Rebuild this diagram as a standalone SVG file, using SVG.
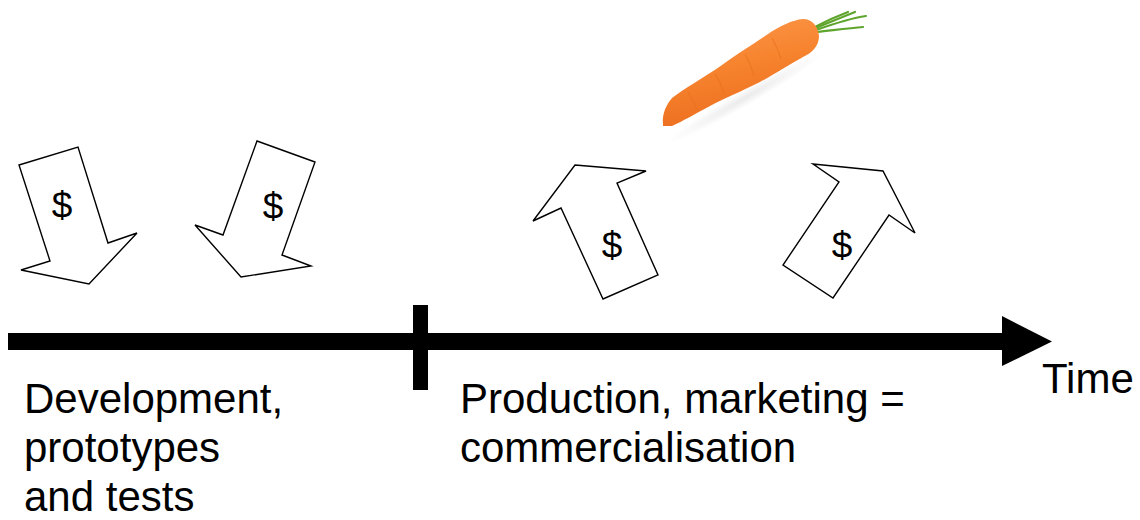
<svg xmlns="http://www.w3.org/2000/svg" width="1140" height="520" viewBox="0 0 1140 520">
<style>
.arrow{fill:#fff;stroke:#000;stroke-width:1.4;stroke-linejoin:miter}
.dollar{font-family:"Liberation Sans",Arial,sans-serif;font-size:37px;fill:#000;text-anchor:middle}
.label{font-family:"Liberation Sans",Arial,sans-serif;font-size:42px;fill:#000}
.leaf{fill:none;stroke:#5fa52d;stroke-width:2.2;stroke-linecap:round}
.ridge{fill:none;stroke:#e8701f;stroke-width:1.2;opacity:0.6}
</style>
<defs>
<linearGradient id="carrotGrad" x1="0" y1="0" x2="0.3" y2="1">
<stop offset="0" stop-color="#fb9a4e"/>
<stop offset="0.5" stop-color="#f7842f"/>
<stop offset="1" stop-color="#ec6f1f"/>
</linearGradient>
<radialGradient id="shadowGrad" cx="0.5" cy="0.5" r="0.5">
<stop offset="0" stop-color="#000" stop-opacity="0.08"/>
<stop offset="1" stop-color="#000" stop-opacity="0"/>
</radialGradient>
</defs>
<rect width="1140" height="520" fill="#fff"/>

<g id="carrot">
<ellipse cx="745" cy="98" rx="90" ry="8" transform="rotate(-30 745 98)" fill="url(#shadowGrad)"/>
<path class="leaf" d="M816,28 C830,22 845,16 855,12"/>
<path class="leaf" d="M816,30 C833,24 852,18 866,16"/>
<path class="leaf" d="M817,32 C835,30 850,28 863,27"/>
<path class="leaf" d="M815,27 C828,20 840,15 848,12"/>
<path d="M663,124 C662,116 665,106 672,98 C685,88 705,77 722,65 C740,52 755,43 768,34 C780,26 792,20 803,19 C812,19 818,26 819,36 C819,46 812,53 803,57 C790,64 775,74 760,82 C740,92 725,98 710,106 C695,114 683,121 672,126 L663,126 Z" fill="url(#carrotGrad)"/>
<path class="ridge" d="M688,92 C692,98 695,104 697,110"/>
<path class="ridge" d="M715,74 C719,80 722,86 724,94"/>
<path class="ridge" d="M745,54 C749,61 752,68 754,76"/>
<path class="ridge" d="M772,38 C776,45 779,52 781,59"/>
</g>

<g id="arrow1">
<polygon class="arrow" points="19,165 78,147 108,243 137,233 89,284 21,270 50,261"/>
<text class="dollar" x="62" y="218">$</text>
</g>
<g id="arrow2">
<polygon class="arrow" points="257,141 315,162 282,255 311,266 241,277 195,225 223,235"/>
<text class="dollar" x="273" y="219">$</text>
</g>
<g id="arrow3">
<polygon class="arrow" points="575,165 646,171 617,183 658,275 603,299 561,208 533,221"/>
<text class="dollar" x="612" y="258">$</text>
</g>
<g id="arrow4">
<polygon class="arrow" points="813,164 883,171 915,233 889,215 833,298 783,265 839,182"/>
<text class="dollar" x="842" y="258">$</text>
</g>

<g id="connectors">
<rect x="8" y="333" width="996" height="17" fill="#000"/>
<polygon points="1002,316 1052,341.5 1002,366" fill="#000"/>
<rect x="413" y="305" width="15" height="85" fill="#000"/>
</g>

<g id="label-dev">
<text class="label" x="24" y="413">Development,</text>
<text class="label" x="24" y="462">prototypes</text>
<text class="label" x="24" y="511">and tests</text>
</g>
<g id="label-prod">
<text class="label" x="460" y="413">Production, marketing =</text>
<text class="label" x="460" y="462">commercialisation</text>
</g>
<g id="label-time">
<text class="label" x="1042" y="393">Time</text>
</g>
</svg>
